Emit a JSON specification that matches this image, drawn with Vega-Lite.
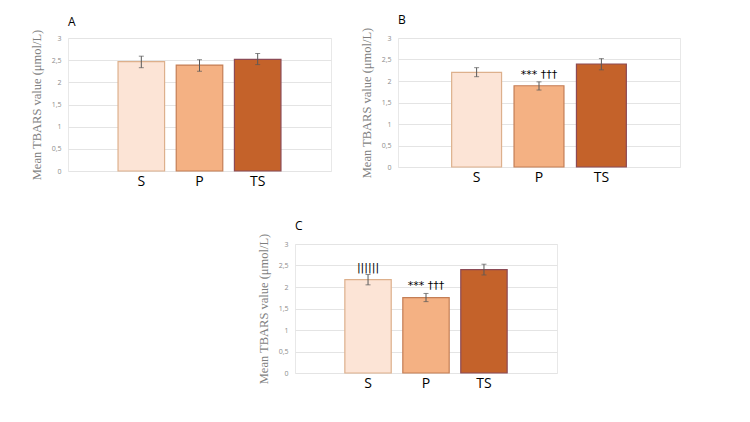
{
  "$schema": "https://vega.github.io/schema/vega-lite/v6.json",
  "background": "white",
  "padding": {"left": 29, "top": 13, "right": 5, "bottom": 5},
  "spacing": 30,
  "datasets": {
    "tbars": [
      {"panel": "A", "group": "S", "mean": 2.465, "lo": 2.33, "hi": 2.59, "note": ""},
      {"panel": "A", "group": "P", "mean": 2.39, "lo": 2.25, "hi": 2.51, "note": ""},
      {"panel": "A", "group": "TS", "mean": 2.52, "lo": 2.40, "hi": 2.65, "note": ""},
      {"panel": "B", "group": "S", "mean": 2.20, "lo": 2.10, "hi": 2.31, "note": ""},
      {"panel": "B", "group": "P", "mean": 1.89, "lo": 1.79, "hi": 1.98, "note": "*** †††"},
      {"panel": "B", "group": "TS", "mean": 2.395, "lo": 2.26, "hi": 2.52, "note": ""},
      {"panel": "C", "group": "S", "mean": 2.17, "lo": 2.05, "hi": 2.29, "note": "||||||"},
      {"panel": "C", "group": "P", "mean": 1.755, "lo": 1.66, "hi": 1.85, "note": "***   †††"},
      {"panel": "C", "group": "TS", "mean": 2.405, "lo": 2.28, "hi": 2.53, "note": ""}
    ]
  },
  "config": {
    "view": {"stroke": "#e8e8e8"},
    "title": {"anchor": "start", "frame": "group", "fontSize": 12, "font": "Open Sans", "fontWeight": "normal", "color": "#000000", "offset": -3},
    "axisY": {
      "domain": false, "ticks": false, "grid": true, "gridColor": "#e4e4e4",
      "labelFont": "Open Sans", "labelFontSize": 7, "labelColor": "#8c8c8c", "labelPadding": 7,
      "titleFont": "Liberation Serif", "titleFontSize": 12.5, "titleFontWeight": "normal", "titleColor": "#7f7f7f", "titlePadding": 8
    },
    "axisX": {
      "domain": false, "ticks": false, "grid": false, "labelAngle": 0,
      "labelFont": "Open Sans", "labelFontSize": 14, "labelColor": "#000000", "labelPadding": 3
    }
  },
  "vconcat": [
    {
      "bounds": "flush",
      "spacing": 67,
      "hconcat": [
        {
          "width": 263, "height": 133,
          "title": "A",
          "data": {"name": "tbars"},
          "transform": [{"filter": "datum.panel === 'A'"}],
          "encoding": {
            "x": {"field": "group", "type": "nominal", "sort": ["S", "P", "TS"], "title": null,
                  "scale": {"paddingInner": 0.2, "paddingOuter": 0.86}}
          },
          "layer": [
            {"mark": {"type": "bar", "strokeWidth": 1.2},
             "encoding": {
               "y": {"field": "mean", "type": "quantitative", "scale": {"domain": [0, 3]}, "title": "Mean  TBARS  value (μmol/L)",
                     "axis": {"values": [0, 0.5, 1, 1.5, 2, 2.5, 3], "labelOverlap": false, "labelExpr": "replace(format(datum.value, ''), '.', ',')"}},
               "fill": {"field": "group", "type": "nominal", "legend": null, "scale": {"domain": ["S", "P", "TS"], "range": ["#FCE4D6", "#F4B183", "#C4622A"]}},
               "stroke": {"field": "group", "type": "nominal", "legend": null, "scale": {"domain": ["S", "P", "TS"], "range": ["#DDB08C", "#C47E55", "#8C4A55"]}}
             }},
            {"mark": {"type": "rule", "color": "#595959", "strokeWidth": 1},
             "encoding": {"y": {"field": "lo", "type": "quantitative", "title": "Mean  TBARS  value (μmol/L)",
                     "axis": {"values": [0, 0.5, 1, 1.5, 2, 2.5, 3], "labelOverlap": false, "labelExpr": "replace(format(datum.value, ''), '.', ',')"}}, "y2": {"field": "hi"}}},
            {"mark": {"type": "tick", "color": "#595959", "size": 5, "thickness": 1},
             "encoding": {"y": {"field": "lo", "type": "quantitative", "title": "Mean  TBARS  value (μmol/L)",
                     "axis": {"values": [0, 0.5, 1, 1.5, 2, 2.5, 3], "labelOverlap": false, "labelExpr": "replace(format(datum.value, ''), '.', ',')"}}}},
            {"mark": {"type": "tick", "color": "#595959", "size": 5, "thickness": 1},
             "encoding": {"y": {"field": "hi", "type": "quantitative", "title": "Mean  TBARS  value (μmol/L)",
                     "axis": {"values": [0, 0.5, 1, 1.5, 2, 2.5, 3], "labelOverlap": false, "labelExpr": "replace(format(datum.value, ''), '.', ',')"}}}},
            {"mark": {"type": "text", "baseline": "bottom", "dy": -2, "fontSize": 11, "font": "DejaVu Sans", "color": "#000000"},
             "encoding": {"y": {"field": "hi", "type": "quantitative", "title": "Mean  TBARS  value (μmol/L)",
                     "axis": {"values": [0, 0.5, 1, 1.5, 2, 2.5, 3], "labelOverlap": false, "labelExpr": "replace(format(datum.value, ''), '.', ',')"}}, "text": {"field": "note"}}}
          ]
        },
        {
          "width": 282, "height": 129,
          "title": "B",
          "data": {"name": "tbars"},
          "transform": [{"filter": "datum.panel === 'B'"}],
          "encoding": {
            "x": {"field": "group", "type": "nominal", "sort": ["S", "P", "TS"], "title": null,
                  "scale": {"paddingInner": 0.2, "paddingOuter": 0.86}}
          },
          "layer": [
            {"mark": {"type": "bar", "strokeWidth": 1.2},
             "encoding": {
               "y": {"field": "mean", "type": "quantitative", "scale": {"domain": [0, 3]}, "title": "Mean  TBARS  value (μmol/L)",
                     "axis": {"values": [0, 0.5, 1, 1.5, 2, 2.5, 3], "labelOverlap": false, "labelExpr": "replace(format(datum.value, ''), '.', ',')"}},
               "fill": {"field": "group", "type": "nominal", "legend": null, "scale": {"domain": ["S", "P", "TS"], "range": ["#FCE4D6", "#F4B183", "#C4622A"]}},
               "stroke": {"field": "group", "type": "nominal", "legend": null, "scale": {"domain": ["S", "P", "TS"], "range": ["#DDB08C", "#C47E55", "#8C4A55"]}}
             }},
            {"mark": {"type": "rule", "color": "#595959", "strokeWidth": 1},
             "encoding": {"y": {"field": "lo", "type": "quantitative", "title": "Mean  TBARS  value (μmol/L)",
                     "axis": {"values": [0, 0.5, 1, 1.5, 2, 2.5, 3], "labelOverlap": false, "labelExpr": "replace(format(datum.value, ''), '.', ',')"}}, "y2": {"field": "hi"}}},
            {"mark": {"type": "tick", "color": "#595959", "size": 5, "thickness": 1},
             "encoding": {"y": {"field": "lo", "type": "quantitative", "title": "Mean  TBARS  value (μmol/L)",
                     "axis": {"values": [0, 0.5, 1, 1.5, 2, 2.5, 3], "labelOverlap": false, "labelExpr": "replace(format(datum.value, ''), '.', ',')"}}}},
            {"mark": {"type": "tick", "color": "#595959", "size": 5, "thickness": 1},
             "encoding": {"y": {"field": "hi", "type": "quantitative", "title": "Mean  TBARS  value (μmol/L)",
                     "axis": {"values": [0, 0.5, 1, 1.5, 2, 2.5, 3], "labelOverlap": false, "labelExpr": "replace(format(datum.value, ''), '.', ',')"}}}},
            {"mark": {"type": "text", "baseline": "bottom", "dy": -2, "fontSize": 11, "font": "DejaVu Sans", "color": "#000000"},
             "encoding": {"y": {"field": "hi", "type": "quantitative", "title": "Mean  TBARS  value (μmol/L)",
                     "axis": {"values": [0, 0.5, 1, 1.5, 2, 2.5, 3], "labelOverlap": false, "labelExpr": "replace(format(datum.value, ''), '.', ',')"}}, "text": {"field": "note"}}}
          ]
        }
      ]
    },
    {
      "bounds": "flush",
      "spacing": 0,
      "hconcat": [
        {
          "width": 227, "height": 129,
          "view": {"stroke": null},
          "data": {"values": []},
          "mark": "text",
          "encoding": {}
        },
        {
          "width": 262, "height": 129,
          "title": "C",
          "data": {"name": "tbars"},
          "transform": [{"filter": "datum.panel === 'C'"}],
          "encoding": {
            "x": {"field": "group", "type": "nominal", "sort": ["S", "P", "TS"], "title": null,
                  "scale": {"paddingInner": 0.2, "paddingOuter": 0.86}}
          },
          "layer": [
            {"mark": {"type": "bar", "strokeWidth": 1.2},
             "encoding": {
               "y": {"field": "mean", "type": "quantitative", "scale": {"domain": [0, 3]}, "title": "Mean  TBARS  value (μmol/L)",
                     "axis": {"values": [0, 0.5, 1, 1.5, 2, 2.5, 3], "labelOverlap": false, "labelExpr": "replace(format(datum.value, ''), '.', ',')"}},
               "fill": {"field": "group", "type": "nominal", "legend": null, "scale": {"domain": ["S", "P", "TS"], "range": ["#FCE4D6", "#F4B183", "#C4622A"]}},
               "stroke": {"field": "group", "type": "nominal", "legend": null, "scale": {"domain": ["S", "P", "TS"], "range": ["#DDB08C", "#C47E55", "#8C4A55"]}}
             }},
            {"mark": {"type": "rule", "color": "#595959", "strokeWidth": 1},
             "encoding": {"y": {"field": "lo", "type": "quantitative", "title": "Mean  TBARS  value (μmol/L)",
                     "axis": {"values": [0, 0.5, 1, 1.5, 2, 2.5, 3], "labelOverlap": false, "labelExpr": "replace(format(datum.value, ''), '.', ',')"}}, "y2": {"field": "hi"}}},
            {"mark": {"type": "tick", "color": "#595959", "size": 5, "thickness": 1},
             "encoding": {"y": {"field": "lo", "type": "quantitative", "title": "Mean  TBARS  value (μmol/L)",
                     "axis": {"values": [0, 0.5, 1, 1.5, 2, 2.5, 3], "labelOverlap": false, "labelExpr": "replace(format(datum.value, ''), '.', ',')"}}}},
            {"mark": {"type": "tick", "color": "#595959", "size": 5, "thickness": 1},
             "encoding": {"y": {"field": "hi", "type": "quantitative", "title": "Mean  TBARS  value (μmol/L)",
                     "axis": {"values": [0, 0.5, 1, 1.5, 2, 2.5, 3], "labelOverlap": false, "labelExpr": "replace(format(datum.value, ''), '.', ',')"}}}},
            {"mark": {"type": "text", "baseline": "bottom", "dy": -2, "fontSize": 11, "font": "DejaVu Sans", "color": "#000000"},
             "encoding": {"y": {"field": "hi", "type": "quantitative", "title": "Mean  TBARS  value (μmol/L)",
                     "axis": {"values": [0, 0.5, 1, 1.5, 2, 2.5, 3], "labelOverlap": false, "labelExpr": "replace(format(datum.value, ''), '.', ',')"}}, "text": {"field": "note"}}}
          ]
        }
      ]
    }
  ]
}
